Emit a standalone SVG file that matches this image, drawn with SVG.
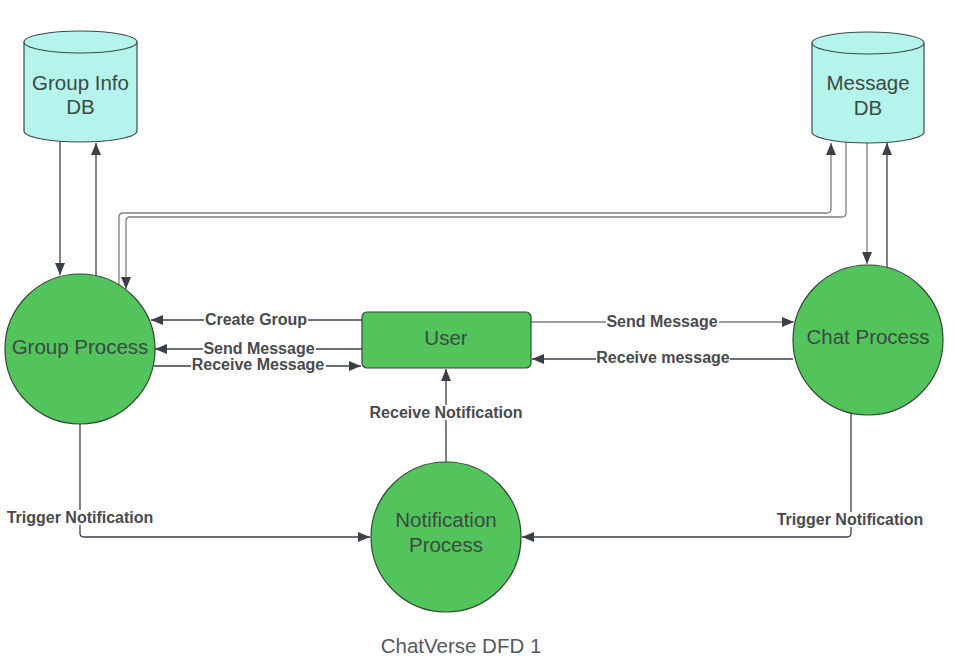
<svg xmlns="http://www.w3.org/2000/svg" width="954" height="663" viewBox="0 0 954 663">
<defs>
<marker id="arr" markerUnits="userSpaceOnUse" markerWidth="13" markerHeight="11" refX="12" refY="5" orient="auto">
<path d="M0,0 L12,5 L0,10 z" fill="#3a3f4a"/>
</marker>
<style>
.conn{fill:none;stroke:#3a3f4a;stroke-width:1.3}
.gray{stroke:#7d7f84}
.proc{fill:#53c35c;stroke:#2f4a33;stroke-width:1.2}
.db{fill:#b5f4ec;stroke:#3d4a4a;stroke-width:1.2}
.ntxt{font-family:"Liberation Sans",Arial,sans-serif;font-size:20.5px;fill:#3b4a42;text-anchor:middle}
.bg{fill:#ffffff}
.lbl{font-family:"Liberation Sans",Arial,sans-serif;font-size:16px;font-weight:bold;fill:#4a4a4e;text-anchor:middle}
.title{font-family:"Liberation Sans",Arial,sans-serif;font-size:20.5px;fill:#55585e;text-anchor:middle}
</style>
</defs>
<rect width="954" height="663" fill="#ffffff"/>

<g id="connectors">
<path class="conn" d="M60,142 L60,275" marker-end="url(#arr)"/>
<path class="conn" d="M96,276 L96,143" marker-end="url(#arr)"/>
<path class="conn gray" d="M119,285 L119,217 Q119,213 123,213 L827,213 Q831,213 831,209 L831,143" marker-end="url(#arr)"/>
<path class="conn gray" d="M846,142 L846,213 Q846,217 842,217 L130,217 Q126,217 126,221 L126,289" marker-end="url(#arr)"/>
<path class="conn gray" d="M867,142 L867,264" marker-end="url(#arr)"/>
<path class="conn" d="M887,267 L887,143" marker-end="url(#arr)"/>
<path class="conn" d="M362,320 L151,320" marker-end="url(#arr)"/>
<path class="conn" d="M362,349 L155,349" marker-end="url(#arr)"/>
<path class="conn" d="M154,366 L361,366" marker-end="url(#arr)"/>
<path class="conn gray" d="M531,322 L794,322" marker-end="url(#arr)"/>
<path class="conn" d="M793,359 L532,359" marker-end="url(#arr)"/>
<path class="conn" d="M446,462 L446,369" marker-end="url(#arr)"/>
<path class="conn" d="M80,424 L80,533 Q80,537 84,537 L370,537" marker-end="url(#arr)"/>
<path class="conn" d="M851,413 L851,533 Q851,537 847,537 L522,537" marker-end="url(#arr)"/>
<rect class="bg" x="204" y="312" width="104" height="15"/>
<rect class="bg" x="203" y="341" width="113" height="15"/>
<rect class="bg" x="191" y="357" width="135" height="15"/>
<rect class="bg" x="606" y="314" width="113" height="15"/>
<rect class="bg" x="596" y="350" width="134" height="15"/>
<rect class="bg" x="369" y="405" width="154" height="15"/>
<rect class="bg" x="5" y="510" width="150" height="15"/>
<rect class="bg" x="776" y="512" width="148" height="15"/>
<text class="lbl" x="256" y="325">Create Group</text>
<text class="lbl" x="259" y="354">Send Message</text>
<text class="lbl" x="258" y="370">Receive Message</text>
<text class="lbl" x="662" y="327">Send Message</text>
<text class="lbl" x="663" y="363">Receive message</text>
<text class="lbl" x="446" y="418">Receive Notification</text>
<text class="lbl" x="80" y="523">Trigger Notification</text>
<text class="lbl" x="850" y="525">Trigger Notification</text>
</g>

<g id="group-info-db">
<path class="db" d="M24,42 L24,131 A56.5,11 0 0 0 137,131 L137,42"/>
<ellipse class="db" cx="80.5" cy="42" rx="56.5" ry="11"/>
<text class="ntxt" x="80.5" y="90">Group Info</text>
<text class="ntxt" x="80.5" y="114">DB</text>
</g>

<g id="message-db">
<path class="db" d="M812,43 L812,132 A56,11 0 0 0 924,132 L924,43"/>
<ellipse class="db" cx="868" cy="43" rx="56" ry="11"/>
<text class="ntxt" x="868" y="90">Message</text>
<text class="ntxt" x="868" y="115">DB</text>
</g>

<g id="group-process">
<circle class="proc" cx="80" cy="349" r="75"/>
<text class="ntxt" x="80" y="354">Group Process</text>
</g>

<g id="chat-process">
<circle class="proc" cx="868" cy="340" r="75"/>
<text class="ntxt" x="868" y="344">Chat Process</text>
</g>

<g id="user">
<rect class="proc" x="362" y="312" width="169" height="56" rx="5"/>
<text class="ntxt" x="446" y="345">User</text>
</g>

<g id="notification-process">
<circle class="proc" cx="446" cy="537" r="75"/>
<text class="ntxt" x="446" y="527">Notification</text>
<text class="ntxt" x="446" y="552">Process</text>
</g>

<text class="title" x="461" y="653">ChatVerse DFD 1</text>
</svg>
